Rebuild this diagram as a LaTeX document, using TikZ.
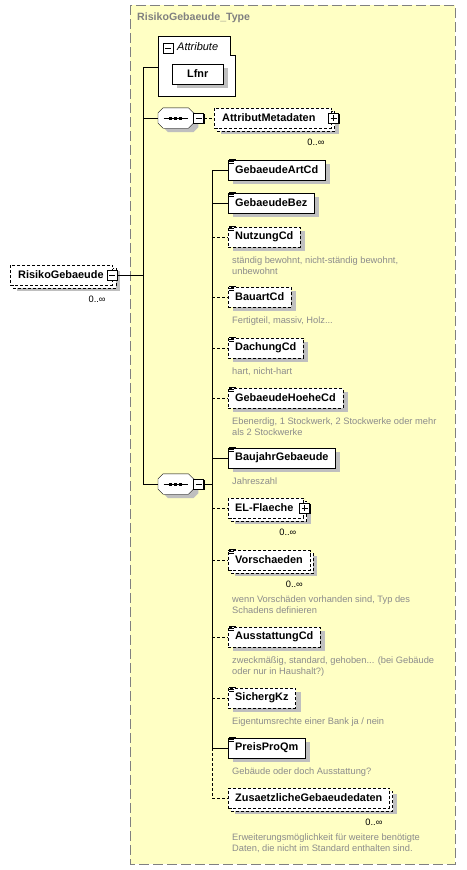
\documentclass[tikz,border=0pt]{standalone}
\usepackage{fontspec}
\setmainfont{Liberation Sans}
\usetikzlibrary{calc, positioning, shadows}
\definecolor{paper}{HTML}{FFFFC4}
\definecolor{framegray}{HTML}{808080}
\definecolor{descgray}{HTML}{8C8C8C}
\newcommand{\lblfont}{\fontsize{10.9}{12}\selectfont\bfseries}
\newcommand{\descfont}{\fontsize{9.3}{11}\selectfont}
\pgfdeclarelayer{bg}
\pgfdeclarelayer{back}
\pgfsetlayers{bg,back,main}
% stacked copy behind an element that may repeat
\newcommand{\multiback}[1]{%
  \begin{pgfonlayer}{back}
    \fill[black!25] ($(#1.north west)+(7,6)$) rectangle ($(#1.south east)+(7,6)$);
    \draw[opt, fill=white] ($(#1.north west)+(3,3)$) rectangle ($(#1.south east)+(3,3)$);
  \end{pgfonlayer}}
% small text-lines icon in the top left corner
\newcommand{\docicon}[1]{%
  \fill[white] ($(#1.north west)+(0.6,-0.6)$) rectangle ($(#1.north west)+(7.5,0.6)$);
  \foreach \icony/\iconl in {-0.5/6.5, 1.5/5, 3.5/5}
    \draw ($(#1.north west)+(1,\icony)$) -- ++(\iconl,0);}
% octagon of a sequence compositor
\newcommand{\octagon}[1]{%
  \draw[fill=white, drop shadow={shadow xshift=5pt, shadow yshift=-4pt, fill=black!25, opacity=1}]
    ($(#1.north west)+(5,0)$) -- ($(#1.north east)+(-5,0)$) -- ($(#1.north east)+(0,5)$)
    -- ($(#1.south east)+(0,-5)$) -- ($(#1.south east)+(-5,0)$) -- ($(#1.south west)+(5,0)$)
    -- ($(#1.south west)+(0,-5)$) -- ($(#1.north west)+(0,5)$) -- cycle;
  \draw (#1.center) ++(-12,0) -- ++(24,0);
  \foreach \dx in {-5,0,5}
    \fill ($(#1.center)+(\dx,0)$) +(-1.5,-1.5) rectangle +(1.5,1.5);}

\begin{document}
\begin{tikzpicture}[x=1pt, y=-1pt, line width=1pt,
  elembase/.style={draw, fill=white, anchor=west, minimum height=20pt,
                   inner xsep=7pt, inner ysep=0pt, font=\lblfont},
  elem/.style={elembase, drop shadow={shadow xshift=5pt, shadow yshift=-4pt,
                                      fill=black!25, opacity=1}},
  opt/.style={dash pattern=on 3pt off 2pt},
  btnroom/.style={execute at end node={\hspace{#1}}},
  btn/.style={draw, fill=white, minimum size=10pt, inner sep=0pt,
              drop shadow={shadow xshift=1.2pt, shadow yshift=-1.2pt,
                           fill=black, opacity=1}},
  minusbtn/.style={btn, path picture={
      \draw ([xshift=2pt]path picture bounding box.west) -- ([xshift=-2pt]path picture bounding box.east);}},
  plusbtn/.style={btn, path picture={
      \draw ([xshift=2pt]path picture bounding box.west) -- ([xshift=-2pt]path picture bounding box.east);
      \draw ([yshift=-2pt]path picture bounding box.north) -- ([yshift=2pt]path picture bounding box.south);}},
  seq/.style={anchor=west, minimum width=35pt, minimum height=20pt, inner sep=0pt},
  desc/.style={inner sep=0pt, align=left, font=\descfont, text=descgray},
  occurs/.style={anchor=east, inner sep=0pt, font=\descfont},
]
\useasboundingbox (0,0) rectangle (466,870);

% complex type frame
\begin{pgfonlayer}{bg}
  \fill[paper] (130,5) rectangle (455,864);
  \draw[framegray, dash pattern=on 10pt off 4pt] (130,5) rectangle (455,864);
\end{pgfonlayer}
\node[anchor=west, inner sep=0pt, font=\fontsize{10.6}{12}\selectfont\bfseries, text=framegray] (title) at (137,18) {RisikoGebaeude\_Type};

% attributes
\draw[fill=white] (158,36) -- (230,36) -- (230,55) -- (235,55) -- (235,96) -- (158,96) -- cycle;
\coordinate (attr) at (158,67);
\node[minusbtn] (attrbtn) at (168,48) {};
\node[anchor=west, inner sep=0pt, font=\fontsize{11}{12}\selectfont\itshape] (attrlbl) at (177,47) {Attribute};
\node[elem, minimum width=51pt] (lfnr) at (172,74) {Lfnr};

% root element
\node[elembase, opt, inner xsep=8pt, btnroom=1pt] (root) at (10,275) {RisikoGebaeude};
\multiback{root}
\node[minusbtn] (rootbtn) at ($(root.east)+(-1,0)$) {};
\node[occurs] (rootocc) at ($(root.south east)+(-7,14)$) {0..∞};

% first sequence
\node[seq] (seq1) at (158,118) {};
\octagon{seq1}
\node[minusbtn, anchor=west] (sb1) at (seq1.east) {};
\node[elembase, opt, inner xsep=8pt, btnroom=8pt] (meta) at (214,118) {AttributMetadaten};
\multiback{meta}
\node[plusbtn] (metabtn) at ($(meta.east)+(2,0)$) {};
\node[occurs] (metaocc) at ($(meta.south east)+(-7,14)$) {0..∞};

% second sequence
\node[seq] (seq2) at (158,484) {};
\octagon{seq2}
\node[minusbtn, anchor=west] (sb2) at (seq2.east) {};

\node[elem] (artcd) at (228,170) {GebaeudeArtCd};
\node[elem] (bez) at (228,203) {GebaeudeBez};
\node[elem, opt] (nutzung) at (228,237) {NutzungCd};
\node[desc, below right=9.5pt and 4pt of nutzung.south west] (nutzungdoc) {ständig bewohnt, nicht-ständig bewohnt,\\unbewohnt};
\node[elem, opt] (bauart) at (228,297) {BauartCd};
\node[desc, below right=9.5pt and 4pt of bauart.south west] (bauartdoc) {Fertigteil, massiv, Holz...};
\node[elem, opt] (dachung) at (228,348) {DachungCd};
\node[desc, below right=9.5pt and 4pt of dachung.south west] (dachungdoc) {hart, nicht-hart};
\node[elem, opt] (hoehe) at (228,398) {GebaeudeHoeheCd};
\node[desc, below right=9.5pt and 4pt of hoehe.south west] (hoehedoc) {Ebenerdig, 1 Stockwerk, 2 Stockwerke oder mehr\\als 2 Stockwerke};
\node[elem] (baujahr) at (228,458) {BaujahrGebaeude};
\node[desc, below right=9.5pt and 4pt of baujahr.south west] (baujahrdoc) {Jahreszahl};
\node[elembase, opt, btnroom=3pt] (flaeche) at (228,508) {EL-Flaeche};
\multiback{flaeche}
\node[plusbtn] (flaechebtn) at ($(flaeche.east)+(1,0)$) {};
\node[occurs] (flaecheocc) at ($(flaeche.south east)+(-7,14)$) {0..∞};
\node[elembase, opt] (vorsch) at (228,560) {Vorschaeden};
\multiback{vorsch}
\node[occurs] (vorschocc) at ($(vorsch.south east)+(-7,14)$) {0..∞};
\node[desc, below right=25.5pt and 4pt of vorsch.south west] (vorschdoc) {wenn Vorschäden vorhanden sind, Typ des\\Schadens definieren};
\node[elem, opt] (ausst) at (228,637) {AusstattungCd};
\node[desc, below right=9.5pt and 4pt of ausst.south west] (ausstdoc) {zweckmäßig, standard, gehoben... (bei Gebäude\\oder nur in Haushalt?)};
\node[elem, opt] (sicherg) at (228,698) {SichergKz};
\node[desc, below right=9.5pt and 4pt of sicherg.south west] (sichergdoc) {Eigentumsrechte einer Bank ja / nein};
\node[elem] (preis) at (228,748) {PreisProQm};
\node[desc, below right=9.5pt and 4pt of preis.south west] (preisdoc) {Gebäude oder doch Ausstattung?};
\node[elembase, opt] (zusatz) at (228,798) {ZusaetzlicheGebaeudedaten};
\multiback{zusatz}
\node[occurs] (zusatzocc) at ($(zusatz.south east)+(-7,14)$) {0..∞};
\node[desc, below right=25.5pt and 4pt of zusatz.south west] (zusatzdoc) {Erweiterungsmöglichkeit für weitere benötigte\\Daten, die nicht im Standard enthalten sind.};

\foreach \e in {artcd, bez, nutzung, bauart, dachung, hoehe, baujahr, vorsch, ausst, sicherg, preis}
  \docicon{\e};

% connectors
\coordinate (v1) at (143,0);
\coordinate (v2) at (212,0);
\draw (v1 |- attr) -- (v1 |- seq2.west);
\draw (v1 |- attr) -- (attr);
\draw (v1 |- seq1.west) -- (seq1.west);
\draw (v1 |- seq2.west) -- (seq2.west);
\draw (rootbtn.east) -- (v1 |- rootbtn.east);
\draw[opt] (sb1.east) -- (meta.west);
\draw (sb2.east) -- (v2 |- sb2.east);
\draw (v2 |- artcd.west) -- (v2 |- preis.west);
\draw[opt] (v2 |- preis.west) -- (v2 |- zusatz.west);
\foreach \e in {artcd, bez, baujahr, preis}
  \draw (v2 |- \e.west) -- (\e.west);
\foreach \e in {nutzung, bauart, dachung, hoehe, flaeche, vorsch, ausst, sicherg, zusatz}
  \draw[opt] (v2 |- \e.west) -- (\e.west);
\end{tikzpicture}
\end{document}
